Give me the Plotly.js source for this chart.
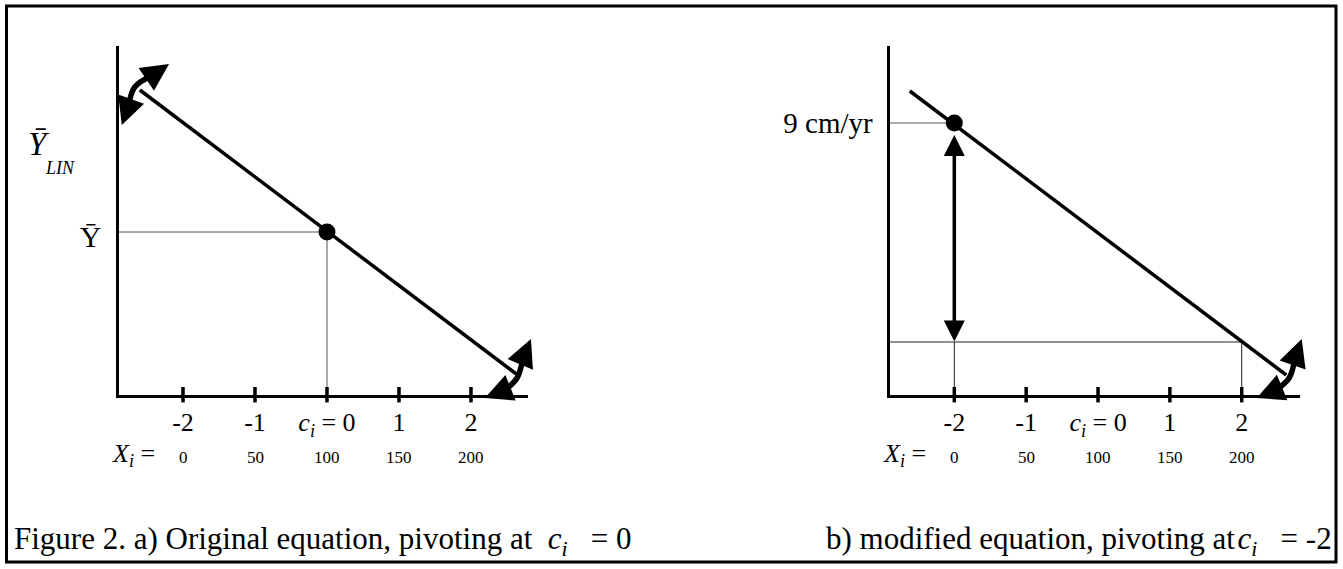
<!DOCTYPE html>
<html><head><meta charset="utf-8">
<script src="https://cdn.plot.ly/plotly-3.0.1.min.js"></script>
<style>html,body{margin:0;padding:0;background:#fff}#chart{width:1343px;height:569px}</style>
</head><body><div id="chart"></div>
<script>
// ---------- data ----------
const codedTicks = [-2, -1, 0, 1, 2];
const codedTickText = ['-2', '-1', '<i>c</i><sub><i>i</i></sub> = 0', '1', '2'];
const rawXLabels = ['0', '50', '100', '150', '200'];

// panel a : original equation
const lineA_c = [-2.6, 2.63];
const lineA_y = [307, 23];
const pivotA_c = [0];
const pivotA_y = [165];
const pivotA_label = ['Ȳ'];

// panel b : modified equation
const lineB_c = [-2.62, 2.62];
const lineB_y = [306, 22];
const pivotB_c = [-2];
const pivotB_y = [274];
const pivotB_label = ['9 cm/yr'];
const predB_c = [2];
const predB_y = [55];

// rotation arcs (centre-line points) and arrow tips
const arcA1_c = [-2.76, -2.67, -2.44], arcA1_y = [290, 310, 321];
const arcA1_tip_c = [-2.85, -2.194], arcA1_tip_y = [272, 333];
const arcA2_c = [2.722, 2.64, 2.472], arcA2_y = [39, 19, 7];
const arcA2_tip_c = [2.833, 2.194], arcA2_tip_y = [58, -1];
const arcB_c = [2.742, 2.66, 2.477], arcB_y = [39, 19, 7];
const arcB_tip_c = [2.835, 2.209], arcB_tip_y = [58, -1];

// ---------- layout helpers ----------
const W = 1343, H = 569;
const FONT = '"Liberation Serif","Times New Roman",Times,serif';
const px = v => v / W, py = v => 1 - v / H;
const rangeA = [-2.896, 2.792], rangeB = [-2.902, 2.811], rangeY = [2, 351];
const yDom = [py(395), py(46)];

function panelTraces(xa, ya, lc, ly) {
  const t = [];
  t.push({x: lc, y: ly, xaxis: xa, yaxis: ya, mode: 'lines', line: {color: '#000', width: 3.5}, hoverinfo: 'skip'});
  t.push({x: codedTicks, y: codedTicks.map(() => 2.3), xaxis: xa, yaxis: ya, mode: 'markers', cliponaxis: false,
          marker: {symbol: 'line-ns', size: 11, color: '#000', line: {color: '#000', width: 3.5}}, hoverinfo: 'skip'});
  return t;
}

const traces = [];
// panel a
traces.push({x: [rangeA[0], pivotA_c[0], null, pivotA_c[0], pivotA_c[0]], y: [pivotA_y[0], pivotA_y[0], null, pivotA_y[0], 0],
  xaxis: 'x', yaxis: 'y', mode: 'lines', line: {color: '#555', width: 1}, hoverinfo: 'skip'});
traces.push(...panelTraces('x', 'y', lineA_c, lineA_y));
traces.push({x: pivotA_c, y: pivotA_y, xaxis: 'x', yaxis: 'y', mode: 'markers', marker: {color: '#000', size: 17}, hoverinfo: 'skip'});
traces.push({x: arcA1_c, y: arcA1_y, xaxis: 'x', yaxis: 'y', mode: 'lines', cliponaxis: false, line: {color: '#000', width: 5.5, shape: 'spline'}, hoverinfo: 'skip'});
traces.push({x: arcA2_c, y: arcA2_y, xaxis: 'x', yaxis: 'y', mode: 'lines', cliponaxis: false, line: {color: '#000', width: 5.5, shape: 'spline'}, hoverinfo: 'skip'});
// panel b
traces.push({x: [rangeB[0], pivotB_c[0]], y: [pivotB_y[0], pivotB_y[0]], xaxis: 'x2', yaxis: 'y2', mode: 'lines', line: {color: '#555', width: 1}, hoverinfo: 'skip'});
traces.push({x: [rangeB[0], predB_c[0], null, predB_c[0], predB_c[0], null, pivotB_c[0], pivotB_c[0]],
  y: [predB_y[0], predB_y[0], null, predB_y[0], 0, null, predB_y[0], 0],
  xaxis: 'x2', yaxis: 'y2', mode: 'lines', line: {color: '#222', width: 1}, hoverinfo: 'skip'});
traces.push(...panelTraces('x2', 'y2', lineB_c, lineB_y));
traces.push({x: pivotB_c, y: pivotB_y, xaxis: 'x2', yaxis: 'y2', mode: 'markers', marker: {color: '#000', size: 17}, hoverinfo: 'skip'});
traces.push({x: arcB_c, y: arcB_y, xaxis: 'x2', yaxis: 'y2', mode: 'lines', cliponaxis: false, line: {color: '#000', width: 5.5, shape: 'spline'}, hoverinfo: 'skip'});

// ---------- annotations ----------
const ann = [];
function head(xr, yr, tipC, tipY, tailC, tailY) {
  ann.push({xref: xr, yref: yr, axref: xr, ayref: yr, x: tipC, y: tipY, ax: tailC, ay: tailY, text: '',
            font: {size: 1}, borderpad: 0, showarrow: true, arrowhead: 2, arrowsize: 1.1, arrowwidth: 5,
            arrowcolor: '#000', standoff: 0});
}
head('x', 'y', arcA1_tip_c[0], arcA1_tip_y[0], arcA1_c[0], arcA1_y[0]);
head('x', 'y', arcA1_tip_c[1], arcA1_tip_y[1], arcA1_c[2], arcA1_y[2]);
head('x', 'y', arcA2_tip_c[0], arcA2_tip_y[0], arcA2_c[0], arcA2_y[0]);
head('x', 'y', arcA2_tip_c[1], arcA2_tip_y[1], arcA2_c[2], arcA2_y[2]);
head('x2', 'y2', arcB_tip_c[0], arcB_tip_y[0], arcB_c[0], arcB_y[0]);
head('x2', 'y2', arcB_tip_c[1], arcB_tip_y[1], arcB_c[2], arcB_y[2]);

// double-headed vertical arrow in panel b
ann.push({xref: 'x2', yref: 'y2', axref: 'x2', ayref: 'y2', x: pivotB_c[0], y: pivotB_y[0] - 12, ax: pivotB_c[0], ay: predB_y[0],
  text: '', font: {size: 1}, borderpad: 0, showarrow: true, arrowside: 'end+start', arrowhead: 2, startarrowhead: 2,
  arrowsize: 1.2, startarrowsize: 1.2, arrowwidth: 3.5, arrowcolor: '#000', standoff: 0, startstandoff: 0});

// raw X row
['x', 'x2'].forEach((xr, k) => {
  codedTicks.forEach((c, i) => ann.push({xref: xr, yref: 'paper', x: c, y: py(457), xanchor: 'center', yanchor: 'middle',
    text: rawXLabels[i], showarrow: false, font: {family: FONT, size: 17, color: '#000'}}));
  ann.push({xref: 'paper', yref: 'paper', x: px(k === 0 ? 157 : 928), y: py(455), xanchor: 'right', yanchor: 'middle',
    text: '<i>X</i><sub><i>i</i></sub> =', showarrow: false, font: {family: FONT, size: 26, color: '#000'}});
});

// Y-bar LIN axis label
ann.push({xref: 'paper', yref: 'paper', x: px(38.5), y: py(144), xanchor: 'center', yanchor: 'middle',
  text: '<i>Ȳ</i>', showarrow: false, font: {family: FONT, size: 33, color: '#000'}});
ann.push({xref: 'paper', yref: 'paper', x: px(59.5), y: py(168), xanchor: 'center', yanchor: 'middle',
  text: '<i>LIN</i>', showarrow: false, font: {family: FONT, size: 18, color: '#000'}});

// captions
ann.push({xref: 'paper', yref: 'paper', x: px(12), y: py(541), xanchor: 'left', yanchor: 'middle', showarrow: false,
  text: 'Figure 2. a) Original equation, pivoting at &nbsp;<i>c</i><sub><i>i</i></sub>&nbsp;&nbsp; = 0', font: {family: FONT, size: 31, color: '#000'}});
ann.push({xref: 'paper', yref: 'paper', x: px(1334), y: py(541), xanchor: 'right', yanchor: 'middle', showarrow: false,
  text: 'b) modified equation, pivoting at&#8202;<i>c</i><sub><i>i</i></sub>&nbsp;&nbsp; = -2', font: {family: FONT, size: 31, color: '#000'}});

const axX = (dom, rng, anchor) => ({domain: dom, range: rng, anchor: anchor, showline: true, linewidth: 3, linecolor: '#000',
  showgrid: false, zeroline: false, ticks: '', tickvals: codedTicks, ticktext: codedTickText, ticklabelstandoff: 2,
  tickfont: {family: FONT, size: 26, color: '#000'}, fixedrange: true});
const axY = (anchor, vals, text, size, shift) => ({domain: yDom, range: rangeY, anchor: anchor, showline: true, linewidth: 3, linecolor: '#000',
  showgrid: false, zeroline: false, ticks: '', tickvals: vals, ticktext: text, ticklabelstandoff: 8, ticklabelshift: shift,
  tickfont: {family: FONT, size: size, color: '#000'}, fixedrange: true});

const layout = {
  width: W, height: H, margin: {l: 0, r: 0, t: 0, b: 0}, paper_bgcolor: '#fff', plot_bgcolor: 'rgba(0,0,0,0)',
  showlegend: false, font: {family: FONT, color: '#000'},
  xaxis: axX([px(118.5), px(528)], rangeA, 'y'),
  yaxis: axY('x', pivotA_y, pivotA_label, 30, 4),
  xaxis2: axX([px(889.5), px(1300)], rangeB, 'y2'),
  yaxis2: axY('x2', pivotB_y, pivotB_label, 29, 0),
  annotations: ann,
  shapes: [{type: 'rect', xref: 'paper', yref: 'paper', x0: px(6.5), x1: px(1336), y0: py(562), y1: py(6), line: {color: '#000', width: 3}}]
};

Plotly.newPlot('chart', traces, layout, {displayModeBar: false, staticPlot: true});
</script></body></html>
